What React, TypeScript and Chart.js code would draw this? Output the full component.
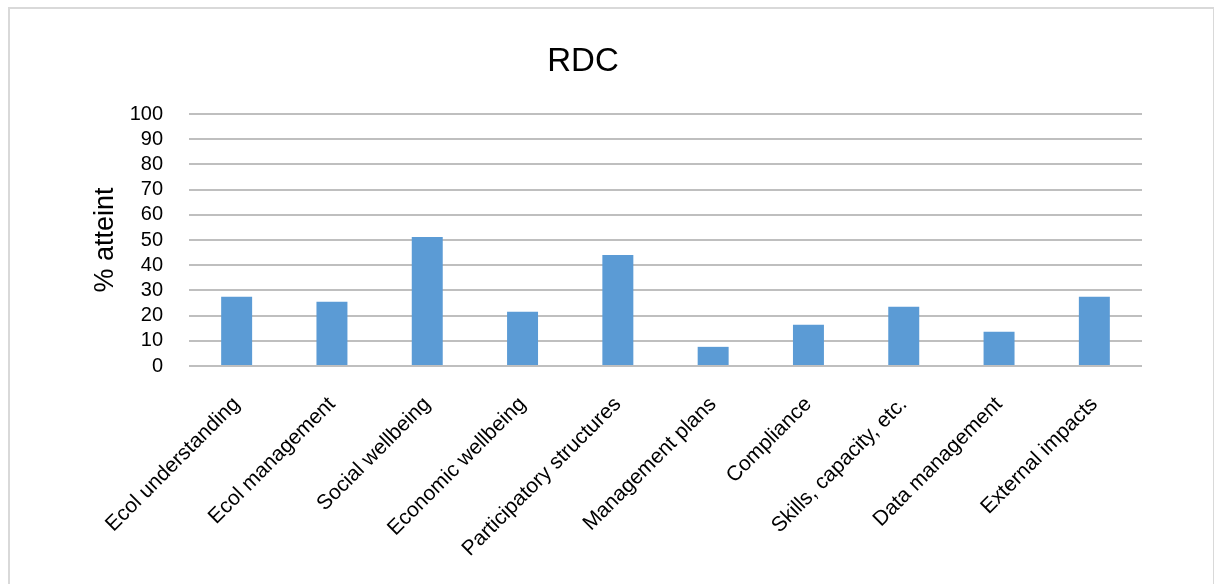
import React, { useEffect, useRef } from "react";
import { Chart, registerables } from "chart.js";

Chart.register(...registerables);

const chartTitle = "RDC";
const yAxisTitle = "% atteint";
const categories = [
  "Ecol understanding",
  "Ecol management",
  "Social wellbeing",
  "Economic wellbeing",
  "Participatory structures",
  "Management plans",
  "Compliance",
  "Skills, capacity, etc.",
  "Data management",
  "External impacts",
];
const values = [27.5, 25.5, 51.2, 21.5, 44, 7.6, 16.4, 23.5, 13.6, 27.5];
const yMin = 0;
const yMax = 100;
const yStep = 10;

const FONT = "'Liberation Sans', Arial, Helvetica, sans-serif";

export default function App() {
  const ref = useRef<HTMLCanvasElement | null>(null);

  useEffect(() => {
    document.documentElement.style.overflow = "hidden";
    const ctx = ref.current!.getContext("2d")!;
    const chart = new Chart(ctx, {
      type: "bar",
      data: {
        labels: categories,
        datasets: [
          {
            data: values,
            backgroundColor: "#5B9BD5",
            borderWidth: 0,
            categoryPercentage: 1,
            barPercentage: 0.325,
          },
        ],
      },
      options: {
        animation: false,
        responsive: false,
        maintainAspectRatio: false,
        layout: { padding: { left: 24, right: 72, top: 0, bottom: 0 } },
        plugins: {
          legend: { display: false },
          tooltip: { enabled: false },
          title: {
            display: true,
            text: chartTitle,
            color: "#000",
            font: { family: FONT, size: 33, weight: "normal", lineHeight: 1.2 },
            padding: { top: 42, bottom: 32.4 },
          },
        },
        scales: {
          x: {
            grid: { display: false, drawTicks: false },
            border: { display: false },
            ticks: {
              color: "#000",
              font: { family: FONT, size: 21 },
              minRotation: 45,
              maxRotation: 45,
              autoSkip: false,
              padding: 26,
            },
            afterFit: (scale: any) => {
              scale.height = 218;
            },
          },
          y: {
            min: yMin,
            max: yMax,
            grid: { color: "#bfbfbf", lineWidth: 2, drawTicks: false },
            border: { display: false },
            ticks: {
              stepSize: yStep,
              autoSkip: false,
              color: "#000",
              font: { family: FONT, size: 20 },
              padding: 26,
            },
            title: {
              display: true,
              text: yAxisTitle,
              color: "#000",
              font: { family: FONT, size: 27, lineHeight: 1.2 },
              padding: { top: 65, bottom: 0 },
            },
            afterFit: (scale: any) => {
              scale.width = 165;
            },
          },
        },
      },
    });
    return () => chart.destroy();
  }, []);

  return (
    <div style={{ position: "fixed", left: 0, top: 0, width: 1214, height: 584, overflow: "hidden", background: "#fff" }}>
      <div
        style={{
          position: "absolute",
          left: 8,
          top: 7,
          width: 1203,
          height: 640,
          border: "2px solid #d9d9d9",
          boxSizing: "content-box",
        }}
      />
      <canvas ref={ref} width={1214} height={584} style={{ position: "absolute", left: 0, top: 0, width: 1214, height: 584 }} />
    </div>
  );
}
